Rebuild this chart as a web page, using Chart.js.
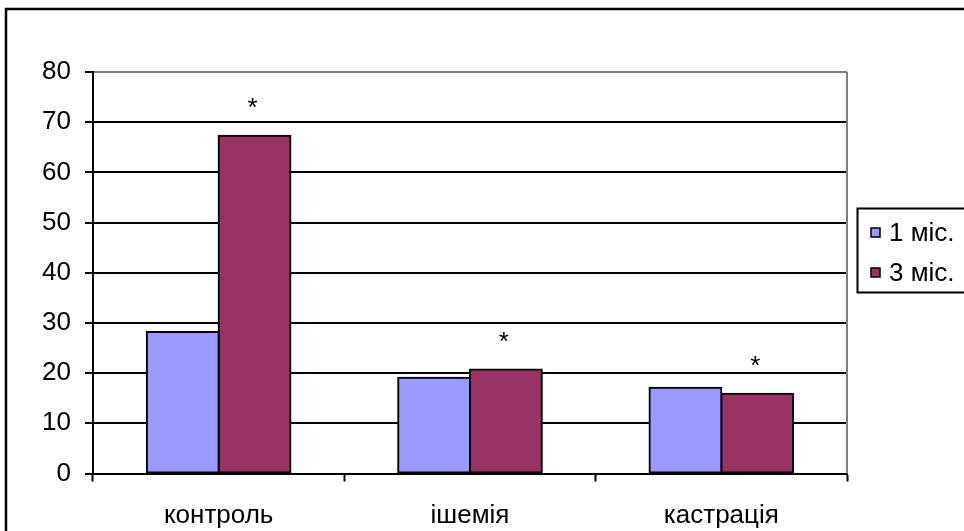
<!DOCTYPE html>
<html lang="uk">
<head>
<meta charset="utf-8">
<title>контроль / ішемія / кастрація</title>
<script src="https://cdn.jsdelivr.net/npm/chart.js@4.4.1/dist/chart.umd.min.js"></script>
<style>
  html, body { margin: 0; padding: 0; background: #fff; }
  #wrap { width: 964px; height: 531px; position: relative; }
</style>
</head>
<body>
<div id="wrap"><canvas id="chart" width="964" height="531"></canvas></div>
<script>
// Groups on the category axis
const categories = ['контроль', 'ішемія', 'кастрація'];
// Series names
const seriesNames = ['1 міс.', '3 міс.'];
// Values per series
const month1 = [28.2, 19.1, 17.1];
const month3 = [67.3, 20.7, 15.9];
// Significance marks placed above the 3 міс. bars
const marks = ['*', '*', '*'];
// Value axis ticks
const yTicks = [0, 10, 20, 30, 40, 50, 60, 70, 80];

const FONT = 'Liberation Sans, Arial, sans-serif';
const FS = 26;

// Frame around the whole chart, plot right border, legend and stars
const decorations = {
  id: 'decorations',
  beforeDraw(chart) {
    const { ctx } = chart;
    ctx.save();
    ctx.fillStyle = '#fff';
    ctx.fillRect(0, 0, chart.width, chart.height);
    ctx.restore();
  },
  afterDatasetsDraw(chart) {
    const { ctx, chartArea } = chart;
    ctx.save();
    // right edge of the plot area
    ctx.strokeStyle = '#808080';
    ctx.lineWidth = 2;
    ctx.beginPath();
    ctx.moveTo(chartArea.right, chartArea.top);
    ctx.lineTo(chartArea.right, chartArea.bottom);
    ctx.stroke();

    // stars above the second series
    const meta = chart.getDatasetMeta(1);
    ctx.fillStyle = '#000';
    ctx.font = FS + 'px ' + FONT;
    ctx.textAlign = 'center';
    ctx.textBaseline = 'alphabetic';
    meta.data.forEach((bar, i) => {
      ctx.fillText(marks[i], bar.x - 2, bar.y - 20);
    });

    // outer frame
    ctx.strokeStyle = '#000';
    ctx.lineWidth = 2.5;
    ctx.strokeRect(6, 9, chart.width + 20, chart.height + 20);

    // legend
    ctx.lineWidth = 2;
    ctx.strokeRect(857.5, 208.5, 140, 84);
    const rows = [232.5, 272.5];
    chart.data.datasets.forEach((ds, i) => {
      const cy = rows[i];
      ctx.fillStyle = ds.backgroundColor;
      ctx.fillRect(871, cy - 4.5, 9, 9);
      ctx.lineWidth = 1.5;
      ctx.strokeStyle = '#000';
      ctx.strokeRect(871, cy - 4.5, 9, 9);
      ctx.fillStyle = '#000';
      ctx.font = FS + 'px ' + FONT;
      ctx.textAlign = 'left';
      ctx.textBaseline = 'middle';
      ctx.fillText(ds.label, 889, cy + 1);
    });
    ctx.restore();
  }
};

new Chart(document.getElementById('chart'), {
  type: 'bar',
  data: {
    labels: categories,
    datasets: [
      {
        label: seriesNames[0],
        data: month1,
        backgroundColor: '#9999FF',
        borderColor: '#000',
        borderWidth: 2,
        borderSkipped: false,
        inflateAmount: 1
      },
      {
        label: seriesNames[1],
        data: month3,
        backgroundColor: '#993366',
        borderColor: '#000',
        borderWidth: 2,
        borderSkipped: false,
        inflateAmount: 1
      }
    ]
  },
  options: {
    responsive: false,
    animation: false,
    devicePixelRatio: 1,
    layout: { padding: { top: 72, right: 117, left: 0, bottom: 0 } },
    datasets: { bar: { categoryPercentage: 1 / 1.75, barPercentage: 1.0 } },
    plugins: {
      legend: { display: false },
      tooltip: { enabled: false }
    },
    scales: {
      x: {
        grid: {
          offset: true,
          drawOnChartArea: false,
          drawTicks: true,
          tickLength: 8,
          tickWidth: 2,
          tickColor: '#000'
        },
        border: { display: true, color: '#000', width: 2 },
        ticks: {
          color: '#000',
          font: { family: FONT, size: FS },
          padding: 19,
          maxRotation: 0
        },
        afterFit(scale) { scale.height = 531 - 473.5; }
      },
      y: {
        min: 0,
        max: 80,
        afterBuildTicks(scale) { scale.ticks = yTicks.map(v => ({ value: v })); },
        grid: {
          color: ctx => (ctx.tick && ctx.tick.value === 80) ? '#808080' : '#000',
          lineWidth: 2,
          tickLength: 8,
          tickColor: '#000',
          tickWidth: 2
        },
        border: { display: true, color: '#000', width: 2 },
        ticks: {
          color: '#000',
          font: { family: FONT, size: FS },
          padding: 14
        },
        afterFit(scale) { scale.width = 93; }
      }
    }
  },
  plugins: [decorations]
});
</script>
</body>
</html>
